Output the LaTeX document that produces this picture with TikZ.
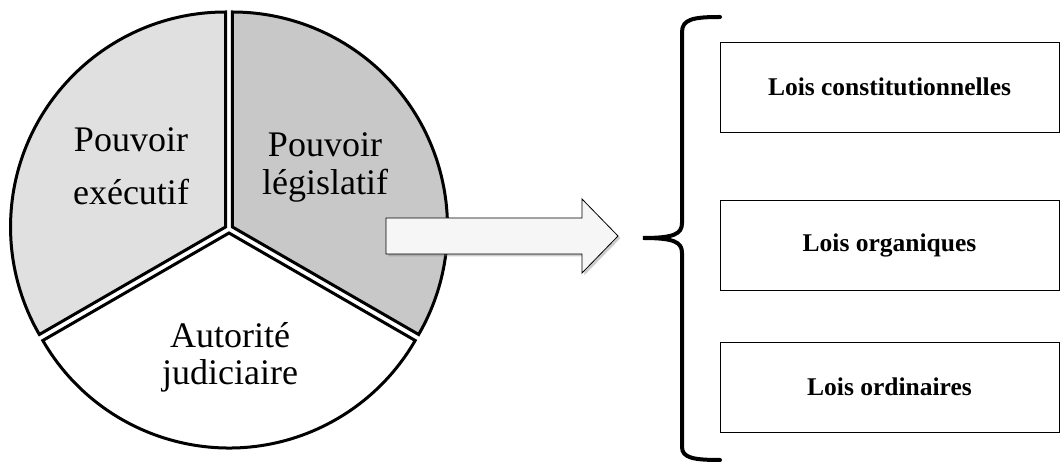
\documentclass[tikz,border=0pt]{standalone}
\usepackage{fontspec}
\setmainfont{Liberation Serif}
\usetikzlibrary{shadows}

\definecolor{execgray}{RGB}{224,224,224}
\definecolor{legisgray}{RGB}{200,200,200}
\definecolor{arrowfill}{RGB}{246,246,246}

\begin{document}
\begin{tikzpicture}[x=1pt, y=1pt,
  slice/.style={draw=black, line width=3pt},
  slicetext/.style={align=center, inner sep=0pt},
  loibox/.style={draw=black, line width=0.8pt, minimum width=339pt,
    minimum height=90pt, inner sep=0pt, font=\fontsize{25.5}{28}\selectfont\bfseries},
  accolade/.style={line width=4pt, line cap=round}]

  \useasboundingbox (0,0) rectangle (1060,463);

  % ====== camembert : les trois pouvoirs ======
  \coordinate (centre) at (229,234);
  \begin{scope}[shift={(centre)}]
    \filldraw[slice, fill=execgray, shift={(150:4)}] (0,0) -- (90:215) arc (90:210:215) -- cycle;
    \filldraw[slice, fill=legisgray, shift={(30:4)}] (0,0) -- (-30:215) arc (-30:90:215) -- cycle;
    \filldraw[slice, fill=white, shift={(270:4)}] (0,0) -- (210:215) arc (210:330:215) -- cycle;
  \end{scope}

  \node[slicetext, font=\fontsize{36}{53}\selectfont] (executif) at (131,297) {Pouvoir\\exécutif};
  \node[slicetext, font=\fontsize{36}{38}\selectfont] (legislatif) at (325,296) {Pouvoir\\législatif};
  \node[slicetext, font=\fontsize{36}{37}\selectfont] (judiciaire) at (230,106) {Autorité\\judiciaire};

  % ====== grosse fleche ======
  \filldraw[fill=arrowfill, draw=black, line width=0.8pt, drop shadow={opacity=0.4}]
    (386,245) -- (582,245) -- (582,264) -- (618,227) -- (582,190) -- (582,209) -- (386,209) -- cycle;

  % ====== accolade ======
  \coordinate (pointe) at (643,225);
  \draw[accolade] (720,446) .. controls (694,446) and (682,444) .. (682,431) -- (682,240)
    .. controls (682,229) and (674,225) .. (pointe)
    .. controls (674,225) and (682,221) .. (682,210) -- (682,16)
    .. controls (682,5) and (694,3) .. (720,3);

  % ====== les trois sortes de lois ======
  \node[loibox] (constit) at (889.5,376) {Lois constitutionnelles};
  \node[loibox] (organiques) at (889.5,218) {Lois organiques};
  \node[loibox] (ordinaires) at (889.5,76) {Lois ordinaires};

\end{tikzpicture}
\end{document}
